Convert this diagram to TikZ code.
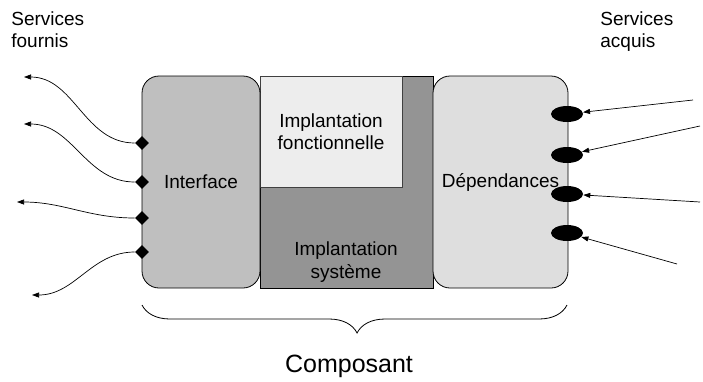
\documentclass[tikz,border=0pt]{standalone}
\usepackage{fontspec}
\setmainfont{Liberation Sans}
\usetikzlibrary{shapes.geometric,arrows.meta,decorations.pathreplacing}
\begin{document}
\begin{tikzpicture}[x=1pt,y=-1pt,line width=0.8pt,
  every node/.style={inner sep=0pt,font=\fontsize{19}{22.5}\selectfont},
  partbox/.style={draw=black,minimum height=212pt,align=center},
  port/.style={diamond,fill=black,minimum size=14pt},
  need/.style={ellipse,fill=black,minimum width=32pt,minimum height=16pt},
  svc/.style={-{Triangle[length=7pt,width=5pt]},line width=0.7pt}]
\useasboundingbox (0,0) rectangle (703,381);
% corps du composant
\node [partbox,fill=black!42,minimum width=173pt] (impl) at (346.5,182) {};
\node [draw=black!75,fill=black!7,minimum width=142pt,minimum height=111pt,align=center]
  (fonc) at (331,131.5) {Implantation\\fonctionnelle};
\node [align=center] (sys) at (346,262) {Implantation\\syst\`eme};
\node [partbox,fill=black!25,rounded corners=17pt,minimum width=118pt] (intf) at (201,182) {Interface};
\node [partbox,fill=black!13,rounded corners=17pt,minimum width=135pt] (dep) at (500.5,182) {D\'ependances};
% services fournis
\node [anchor=north west,align=left] (fournis) at (11,11) {Services\\fournis};
\node [port] (d1) at (142,143) {};
\node [port] (d2) at (142,182) {};
\node [port] (d3) at (142,218) {};
\node [port] (d4) at (142,252) {};
\coordinate (p1) at (24,77);
\coordinate (p2) at (24,124);
\coordinate (p3) at (17,202);
\coordinate (p4) at (32,295);
\draw [svc] (d1) to[out=180,in=0] (p1);
\draw [svc] (d2) to[out=180,in=0] (p2);
\draw [svc] (d3) to[out=180,in=0] (p3);
\draw [svc] (d4) to[out=180,in=0] (p4);
% services acquis
\node [anchor=north west,align=left] (acquis) at (600,11) {Services\\acquis};
\node [need] (e1) at (567,114) {};
\node [need] (e2) at (567,155) {};
\node [need] (e3) at (567,194) {};
\node [need] (e4) at (567,233) {};
\coordinate (q1) at (693,100);
\coordinate (q2) at (700,126);
\coordinate (q3) at (700,202);
\coordinate (q4) at (677,264);
\draw [svc] (q1) -- (e1);
\draw [svc] (q2) -- (e2);
\draw [svc] (q3) -- (e3);
\draw [svc] (q4) -- (e4);
% accolade
\coordinate (bl) at (142,305);
\coordinate (br) at (567,305);
\draw [decorate,decoration={brace,mirror,amplitude=28pt,aspect=0.506}] (bl) -- (br);
\node [font=\fontsize{25}{30}\selectfont] (comp) at (349,366) {Composant};
\end{tikzpicture}
\end{document}
